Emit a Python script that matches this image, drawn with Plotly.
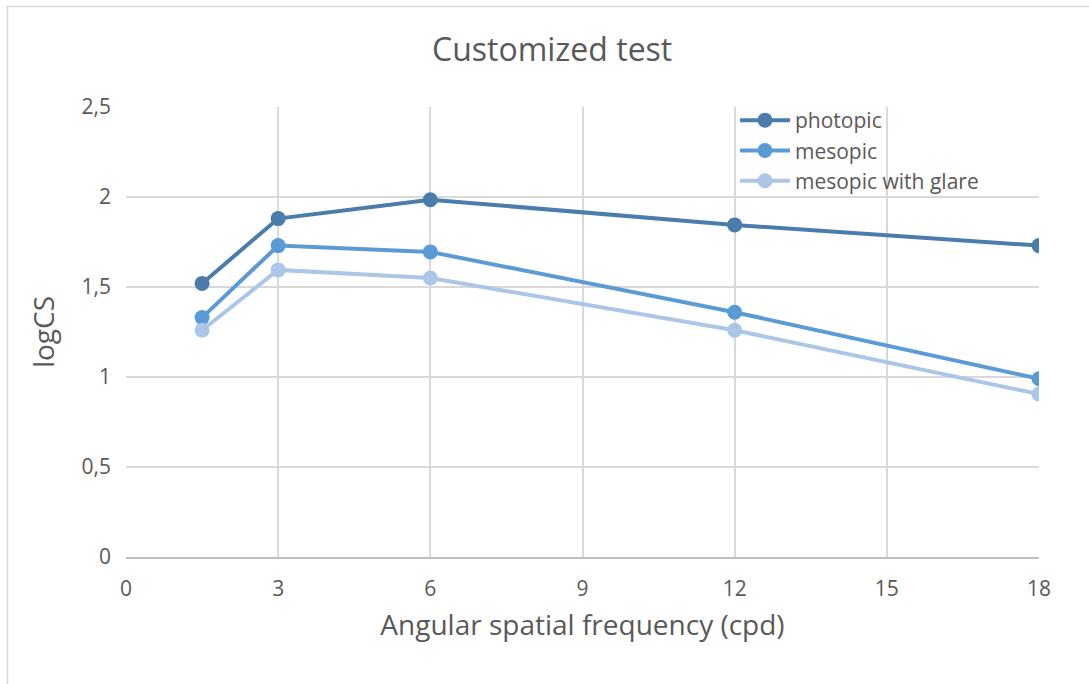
import plotly.graph_objects as go

freq = [1.5, 3, 6, 12, 18]
photopic = [1.52, 1.88, 1.985, 1.845, 1.73]
mesopic = [1.33, 1.73, 1.695, 1.36, 0.99]
mesopic_glare = [1.26, 1.595, 1.55, 1.26, 0.905]

series_names = ["photopic", "mesopic", "mesopic with glare"]
series_colors = ["#4A7DAB", "#5B9BD5", "#ABC6E6"]

W, H = 1089, 684
L, R, T, B = 126, 1039, 107, 557

fig = go.Figure()
for name, vals, col in zip(series_names, [photopic, mesopic, mesopic_glare], series_colors):
    fig.add_trace(go.Scatter(
        x=freq, y=vals, name=name, mode="lines+markers",
        line=dict(color=col, width=4),
        marker=dict(color=col, size=15),
    ))

def px2x(p):
    return (p - L) / (R - L)

def py2y(p):
    return (B - p) / (B - T)

tickfont = dict(family="Open Sans", size=21, color="#595959")

fig.update_layout(
    width=W, height=H,
    margin=dict(l=L, r=W - R, t=T, b=H - B),
    paper_bgcolor="white", plot_bgcolor="white",
    separators=", ",
    font=dict(family="Open Sans", color="#595959", size=21),
    title=dict(text="Customized test", x=0.507, xanchor="center", y=1 - 50 / H, yanchor="middle",
               font=dict(size=32, color="#595959")),
    xaxis=dict(range=[0, 18], tickvals=[0, 3, 6, 9, 12, 15, 18], showgrid=True, gridcolor="#D9D9D9",
               gridwidth=1.5, zeroline=False, showline=True, linecolor="#BFBFBF", linewidth=1.5,
               ticks="", ticklabelstandoff=12, tickfont=tickfont,
               title=dict(text="Angular spatial frequency (cpd)", font=dict(size=28, color="#595959"), standoff=14)),
    yaxis=dict(range=[0, 2.5], dtick=0.5, showgrid=True, gridcolor="#D9D9D9", gridwidth=1.5,
               zeroline=False, showline=False, ticks="", ticklabelstandoff=14, tickfont=tickfont,
               title=dict(text="logCS", font=dict(size=28, color="#595959"), standoff=18)),
    legend=dict(x=px2x(735), y=py2y(100), xanchor="left", yanchor="top", bgcolor="rgba(0,0,0,0)",
                font=dict(size=21, color="#595959"), tracegroupgap=0, itemwidth=50),
    showlegend=True,
)
fig.add_shape(type="rect", xref="paper", yref="paper",
              x0=px2x(7.5), x1=px2x(1100), y0=py2y(700), y1=py2y(6.5),
              line=dict(color="#D9D9D9", width=1.5), layer="below")

fig.write_html("out.html")
